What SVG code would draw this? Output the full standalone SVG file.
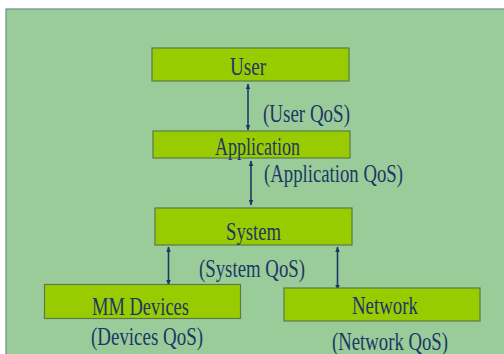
<svg xmlns="http://www.w3.org/2000/svg" width="504" height="354" viewBox="0 0 504 354">
<style>
.box{fill:#99cc00;stroke:#5a7a4a;stroke-width:1.2}
.t{font-family:"Liberation Serif","Times New Roman",serif;font-size:26px;fill:#1d3766}
.c{stroke:#1d3766;stroke-width:1.6;fill:none;marker-start:url(#ah);marker-end:url(#ah)}
</style>
<defs>
<marker id="ah" viewBox="0 0 10 10" refX="9" refY="5" markerWidth="6" markerHeight="6" orient="auto-start-reverse" markerUnits="userSpaceOnUse">
<path d="M0,1 L10,5 L0,9 z" fill="#1d3766"/>
</marker>
</defs>
<rect x="0" y="0" width="504" height="354" fill="#ffffff"/>
<rect x="6" y="9" width="500" height="350" fill="#99cc99" stroke="#6f8a80" stroke-width="1.2"/>
<g id="connectors">
<line class="c" x1="248" y1="84" x2="248" y2="130"/>
<line class="c" x1="251" y1="161" x2="251" y2="205"/>
<line class="c" x1="168.5" y1="247" x2="168.5" y2="285"/>
<line class="c" x1="337.5" y1="247" x2="337.5" y2="290"/>
</g>
<g id="user">
<rect class="box" x="152" y="48" width="197" height="33"/>
<text class="t" x="230" y="74.5" textLength="36" lengthAdjust="spacingAndGlyphs">User</text>
</g>
<text class="t" x="263" y="122" textLength="87" lengthAdjust="spacingAndGlyphs">(User QoS)</text>
<g id="application">
<rect class="box" x="153" y="131" width="197" height="27"/>
<text class="t" x="215" y="155" textLength="85" lengthAdjust="spacingAndGlyphs">Application</text>
</g>
<text class="t" x="264" y="182" textLength="139" lengthAdjust="spacingAndGlyphs">(Application QoS)</text>
<g id="system">
<rect class="box" x="155" y="208" width="197" height="37"/>
<text class="t" x="226" y="239.5" textLength="55" lengthAdjust="spacingAndGlyphs">System</text>
</g>
<text class="t" x="199" y="277" textLength="106" lengthAdjust="spacingAndGlyphs">(System QoS)</text>
<g id="mmdevices">
<rect class="box" x="44.5" y="284.5" width="196" height="34"/>
<text class="t" x="92" y="314.5" textLength="97" lengthAdjust="spacingAndGlyphs">MM Devices</text>
<text class="t" x="91" y="344.5" textLength="112" lengthAdjust="spacingAndGlyphs">(Devices QoS)</text>
</g>
<g id="network">
<rect class="box" x="284" y="288" width="196" height="33"/>
<text class="t" x="352" y="313.5" textLength="66" lengthAdjust="spacingAndGlyphs">Network</text>
<text class="t" x="332" y="349.5" textLength="116" lengthAdjust="spacingAndGlyphs">(Network QoS)</text>
</g>
</svg>
